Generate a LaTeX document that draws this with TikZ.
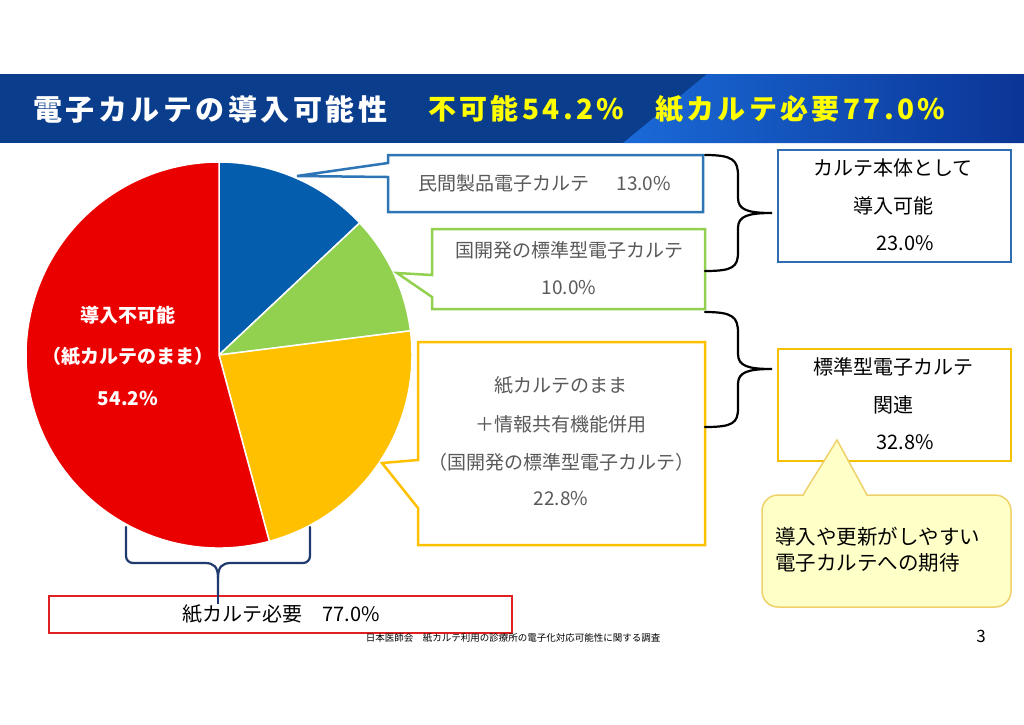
\documentclass[tikz,border=0pt]{standalone}
\usepackage{fontspec}
\setmainfont{Noto Sans CJK JP}
\newfontfamily\titlefont[LetterSpace=12]{Noto Sans CJK JP}
\definecolor{navy}{HTML}{0A3D8C}
\definecolor{tbA}{HTML}{1A6AD8}
\definecolor{tbB}{HTML}{0E45A8}
\definecolor{tbC}{HTML}{0B3596}
\definecolor{ty}{HTML}{FFFF00}
\definecolor{pblue}{HTML}{055DAE}
\definecolor{pgreen}{HTML}{92D050}
\definecolor{pyellow}{HTML}{FFC000}
\definecolor{pred}{HTML}{EB0000}
\definecolor{bblue}{HTML}{2E75B6}
\definecolor{bgreen}{HTML}{92D050}
\definecolor{byellow}{HTML}{FFC000}
\definecolor{rblue}{HTML}{2E6DB4}
\definecolor{ryellow}{HTML}{F5C000}
\definecolor{bred}{HTML}{E02020}
\definecolor{tgray}{HTML}{595959}
\definecolor{cfill}{HTML}{FFFFC8}
\definecolor{cborder}{HTML}{EFD16A}
\definecolor{bnavy}{HTML}{1F3A6E}
\tikzset{
  graytext/.style={text=tgray, font=\fontsize{19}{19}\selectfont, inner sep=0},
  blacktext/.style={text=black, font=\fontsize{20}{20}\selectfont, inner sep=0},
  pielabel/.style={text=white, font=\bfseries\fontsize{19}{19}\selectfont, inner sep=0},
  titletext/.style={font=\titlefont\bfseries\fontsize{28}{28}\selectfont, inner sep=0, anchor=west},
  callout/.style={fill=white, line width=2.5pt, line join=miter},
  bracestyle/.style={draw=black, line width=2.2pt, line cap=round},
  rbox/.style={draw, fill=white, line width=2pt, minimum width=233pt, minimum height=112pt, inner sep=0},
}
\begin{document}
\begin{tikzpicture}[x=1pt,y=-1pt]
\useasboundingbox (0,0) rectangle (1024,724);
\fill[white] (0,0) rectangle (1024,724);
% ---- title bar
\fill[navy] (0,74) rectangle (1024,143);
\shade[left color=tbA, middle color=tbB, right color=tbC] (707,74) -- (1024,74) -- (1024,143) -- (623,143) -- cycle;
\node[titletext, text=white, font=\titlefont\bfseries\fontsize{29}{29}\selectfont] (t1) at (33,109) {電子カルテの導入可能性};
\node[titletext, text=ty] (t2) at (428,109) {不可能54.2\%};
\node[titletext, text=ty] (t3) at (655,109) {紙カルテ必要77.0\%};
% ---- pie
\coordinate (pc) at (219,355);
\def\R{193pt}
\filldraw[fill=pblue, draw=white, line width=1.5pt] (pc) -- ++(90:\R) arc[start angle=90,end angle=43.2,radius=\R] -- cycle;
\filldraw[fill=pgreen, draw=white, line width=1.5pt] (pc) -- ++(43.2:\R) arc[start angle=43.2,end angle=7.2,radius=\R] -- cycle;
\filldraw[fill=pyellow, draw=white, line width=1.5pt] (pc) -- ++(7.2:\R) arc[start angle=7.2,end angle=-74.88,radius=\R] -- cycle;
\filldraw[fill=pred, draw=white, line width=1.5pt] (pc) -- ++(-74.88:\R) arc[start angle=-74.88,end angle=-270,radius=\R] -- cycle;
\node[pielabel] (pl1) at (128,315) {導入不可能};
\node[pielabel] (pl2) at (128,357) {（紙カルテのまま）};
\node[pielabel] (pl3) at (128,398) {54.2\%};
% ---- callouts
\draw[callout, draw=bblue] (388,155) -- (703,155) -- (703,212) -- (388,212) -- (388,177) -- (297,176) -- (388,163) -- cycle;
\node[graytext] (c1) at (545,183) {民間製品電子カルテ\hspace{1.4em}13.0\%};
\draw[callout, draw=bgreen] (432,229) -- (705,229) -- (705,309) -- (432,309) -- (432,297) -- (397,273) -- (432,275) -- cycle;
\node[graytext] (c2a) at (569,250) {国開発の標準型電子カルテ};
\node[graytext] (c2b) at (569,288) {10.0\%};
\draw[callout, draw=byellow] (418,342) -- (705,342) -- (705,545) -- (418,545) -- (418,508) -- (382,463) -- (418,460) -- cycle;
\node[graytext] (c3a) at (561,385) {紙カルテのまま};
\node[graytext] (c3b) at (561,424) {＋情報共有機能併用};
\node[graytext] (c3c) at (561,462) {（国開発の標準型電子カルテ）};
\node[graytext] (c3d) at (561,499) {22.8\%};
% ---- braces
\draw[bracestyle] (705,155) .. controls (733,155) and (738,160) .. (738,176) -- (738,198) .. controls (738,210) and (748,213) .. (772,213)
  .. controls (748,213) and (738,216) .. (738,228) -- (738,252) .. controls (738,267) and (733,271) .. (705,271);
\draw[bracestyle] (705,312) .. controls (733,312) and (738,317) .. (738,333) -- (738,354) .. controls (738,366) and (748,369) .. (772,369)
  .. controls (748,369) and (738,372) .. (738,384) -- (738,408) .. controls (738,423) and (733,427) .. (705,427);
% ---- right boxes
\node[rbox, draw=rblue] (rb1) at (894.5,206) {};
\node[blacktext] (rb1a) at (893,168) {カルテ本体として};
\node[blacktext] (rb1b) at (893,206) {導入可能};
\node[blacktext] (rb1c) at (905,243) {23.0\%};
\node[rbox, draw=ryellow] (rb2) at (894.5,405) {};
\node[blacktext] (rb2a) at (893,367) {標準型電子カルテ};
\node[blacktext] (rb2b) at (893,405) {関連};
\node[blacktext] (rb2c) at (905,442) {32.8\%};
% ---- speech bubble
\draw[fill=cfill, draw=cborder, line width=1.5pt, rounded corners=16pt] (762,495) rectangle (1011,607);
\fill[cfill] (803,497) -- (837,440) -- (867,497) -- cycle;
\draw[draw=cborder, line width=1.5pt, line join=miter] (803,495) -- (837,440) -- (867,495);
\node[blacktext, anchor=west, font=\fontsize{20.5}{20.5}\selectfont] (sb1) at (775,537) {導入や更新がしやすい};
\node[blacktext, anchor=west, font=\fontsize{20.5}{20.5}\selectfont] (sb2) at (775,563) {電子カルテへの期待};
% ---- bottom brace and red box
\draw[draw=bnavy, line width=2.2pt, line cap=round, rounded corners=7pt] (126,527) -- (126,563) -- (205,563);
\draw[draw=bnavy, line width=2.2pt, line cap=round, rounded corners=7pt] (310,527) -- (310,563) -- (231,563);
\draw[draw=bnavy, line width=2.2pt] (205,563) .. controls (214,563) and (218,567) .. (218,578) -- (218,600);
\draw[draw=bnavy, line width=2.2pt] (231,563) .. controls (222,563) and (218,567) .. (218,578);
\draw[draw=bred, fill=white, line width=2pt] (49,596) rectangle (512,633);
\node[blacktext] (rbt) at (281,614) {紙カルテ必要\hspace{1em}77.0\%};
\draw[draw=bnavy, line width=2.2pt] (218,590) -- (218,604);
% ---- footer
\node[text=black, font=\fontsize{9.5}{9.5}\selectfont, inner sep=0] (src) at (513,638) {日本医師会　紙カルテ利用の診療所の電子化対応可能性に関する調査};
\node[text=black, font=\fontsize{17}{17}\selectfont, inner sep=0] (pg) at (981,636) {3};
\end{tikzpicture}
\end{document}
